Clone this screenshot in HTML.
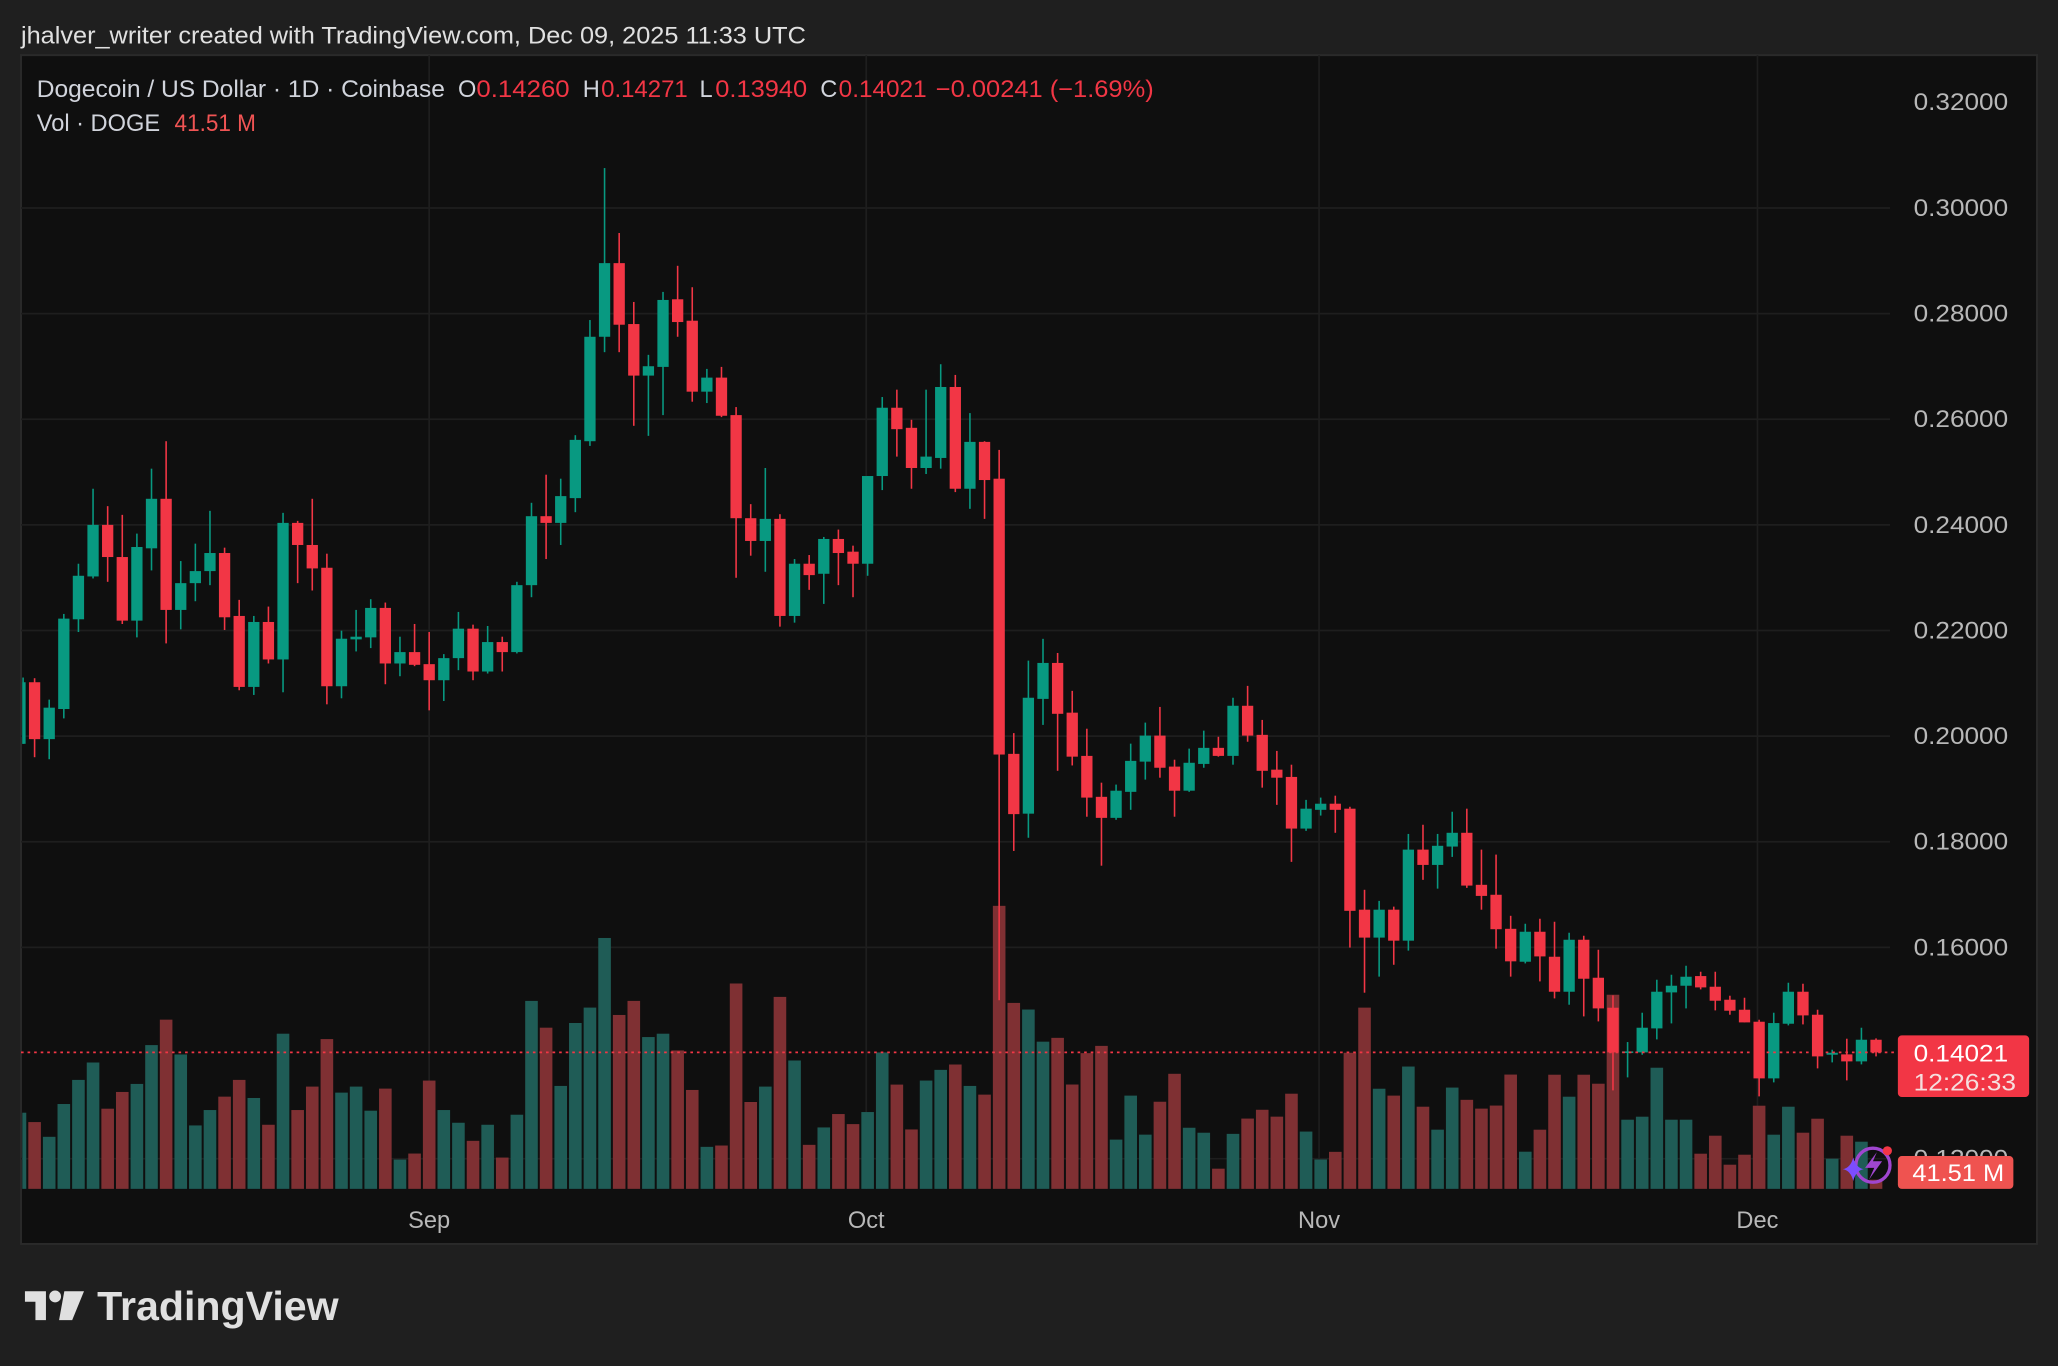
<!DOCTYPE html>
<html><head><meta charset="utf-8"><style>
html,body{margin:0;padding:0;background:#1f1f1f;}
svg{display:block;}
text{font-family:"Liberation Sans",sans-serif;}
</style></head><body>
<svg id="s" xmlns="http://www.w3.org/2000/svg" width="2058" height="1366" viewBox="0 0 1568 1041" preserveAspectRatio="none">
<rect x="0" y="0" width="1568" height="1041" fill="#1f1f1f"/>
<rect x="16" y="42" width="1536" height="906" fill="#0f0f0f" stroke="#2a2a2a" stroke-width="1.5"/>
<g id="grid" stroke="#1e1e1e" stroke-width="1.3"></g>
<g id="vol"></g>
<g id="cdl"></g>
<line x1="16" y1="802" x2="1446" y2="802" stroke="#f23645" stroke-width="1.3" stroke-dasharray="2,3"/>
<g id="lbl" fill="#b8b8b8" font-size="18"></g>
<text x="16" y="33" fill="#e0e0e0" font-size="18" textLength="598" lengthAdjust="spacingAndGlyphs">jhalver_writer created with TradingView.com, Dec 09, 2025 11:33 UTC</text>
<g font-size="18">
<text x="28" y="74" fill="#d1d4dc" textLength="311" lengthAdjust="spacingAndGlyphs">Dogecoin / US Dollar · 1D · Coinbase</text>
<text x="349" y="74" fill="#d1d4dc">O</text>
<text x="363" y="74" fill="#f23645" textLength="71" lengthAdjust="spacingAndGlyphs">0.14260</text>
<text x="444" y="74" fill="#d1d4dc">H</text>
<text x="458" y="74" fill="#f23645" textLength="66" lengthAdjust="spacingAndGlyphs">0.14271</text>
<text x="533" y="74" fill="#d1d4dc">L</text>
<text x="545" y="74" fill="#f23645" textLength="70" lengthAdjust="spacingAndGlyphs">0.13940</text>
<text x="625" y="74" fill="#d1d4dc">C</text>
<text x="639" y="74" fill="#f23645" textLength="67" lengthAdjust="spacingAndGlyphs">0.14021</text>
<text x="713" y="74" fill="#f23645" textLength="166" lengthAdjust="spacingAndGlyphs">−0.00241 (−1.69%)</text>
<text x="28" y="100" fill="#d1d4dc" textLength="94" lengthAdjust="spacingAndGlyphs">Vol · DOGE</text>
<text x="133" y="100" fill="#f05454" textLength="62" lengthAdjust="spacingAndGlyphs">41.51 M</text>
</g>
<rect x="1446" y="789" width="100" height="47" rx="3" fill="#f23645"/>
<text x="1458" y="809" font-size="18" fill="#ffffff" textLength="72" lengthAdjust="spacingAndGlyphs">0.14021</text>
<text x="1458" y="831" font-size="18" fill="#f5dede" textLength="78" lengthAdjust="spacingAndGlyphs">12:26:33</text>
<rect x="1446" y="881" width="88" height="25" rx="3" fill="#ef5350"/>
<text x="1457" y="900" font-size="18" fill="#ffffff" textLength="70" lengthAdjust="spacingAndGlyphs">41.51 M</text>
<circle cx="1427" cy="888" r="13" fill="none" stroke="#a046d0" stroke-width="2.5"/>
<path d="M1430 878 L1421 890 L1428 890 L1424 899 L1434 885 L1427 885 Z" fill="#a046d0"/>
<circle cx="1438" cy="877" r="3.5" fill="#f23645"/>
<path d="M1412 882 Q1414 890 1420 891 Q1414 892 1412 900 Q1410 892 1404 891 Q1410 890 1412 882Z" fill="#7c4dff"/>
<g fill="#b8b8b8" font-size="18" text-anchor="middle">
<text x="327" y="936">Sep</text><text x="660" y="936">Oct</text><text x="1005" y="936">Nov</text><text x="1339" y="936">Dec</text>
</g>
<g fill="#e0e0e0">
<path d="M19 984 H35 V1006 H27 V992 H19 Z"/>
<circle cx="42" cy="988" r="4.5"/>
<path d="M49 984 H64 L55 1006 H45 Z"/>
<text x="74" y="1006" font-size="31" font-weight="bold" fill="#e0e0e0" textLength="184" lengthAdjust="spacingAndGlyphs">TradingView</text>
</g>
</svg>
<script>
var A=[
['g',795,887,788,887,1438],['r',795,880,789,907,1452],['g',833,880,821,910,1474],['g',700,835,693,849,1425],['g',636,701,618,720,1389],
['g',560,637,506,640,1363],['r',560,608,532,645,1432],['r',608,703,545,708,1407],['g',593,703,573,728,1395],['g',521,595,476,628,1337],
['r',521,687,435,737,1299],['g',647,687,614,716,1351],['g',629,647,588,674,1457],['g',602,629,539,650,1434],['r',602,698,594,717,1414],
['r',696,802,672,807,1389],['g',705,802,696,814,1416],['r',705,761,682,767,1456],['g',557,761,542,810,1320],['r',557,590,554,647,1434],
['r',590,625,521,658,1399],['r',624,801,603,828,1328],['g',730,801,718,819,1408],['g',727,731,687,749,1399],['g',684,728,671,744,1435],
['r',684,767,676,798,1402],['g',750,767,727,786,1508],['r',750,769,708,771,1499],['r',768,792,720,837,1390],['g',759,792,753,823,1434],
['g',715,759,690,777,1453],['r',715,779,709,792,1480],['g',735,779,711,782,1456],['r',735,750,727,779,1505],['g',650,750,645,752,1441],
['g',547,650,527,668,1271],['r',547,557,485,611,1311],['g',517,557,491,590,1398],['g',433,520,426,541,1304],['g',279,435,254,442,1281],
['g',169,279,27,302,1177],['r',169,261,124,302,1292],['r',260,337,227,412,1271],['g',323,337,306,427,1325],['g',224,324,212,396,1320],
['r',223,257,173,279,1345],['r',255,361,205,376,1404],['g',340,361,327,378,1489],['r',340,397,324,399,1487],['r',396,550,384,639,1245],
['r',550,584,529,606,1422],['g',551,584,475,630,1399],['r',551,696,544,712,1265],['g',618,696,611,706,1360],['r',618,635,605,657,1486],
['g',581,633,578,678,1460],['r',581,602,567,650,1440],['r',600,618,591,668,1455],['g',487,618,487,636,1437],['g',385,487,369,508,1348],
['r',385,417,358,458,1396],['r',415,475,403,506,1463],['g',458,475,358,484,1390],['g',354,460,320,476,1374],['r',354,506,336,511,1366],
['g',436,506,393,536,1398],['r',436,493,435,551,1411],['r',491,903,448,1270,1129],['r',902,992,871,1047,1274]];
var B=[
['g',256,559,159,622,1071],['g',165,259,102,327,1155],['r',165,298,139,447,1145],['r',295,410,238,433,1267],['r',408,517,337,567,1185],
['r',515,570,478,695,1166],['g',499,570,483,575,1411],['g',421,502,376,549,1296],['g',355,423,321,470,1398],['r',355,439,280,465,1312],
['r',436,499,418,567,1239],['g',426,499,389,502,1380],['g',387,429,342,439,1393],['r',387,408,358,410,1487],['g',277,408,256,431,1396],
['r',277,355,225,371,1356],['r',353,447,314,491,1333],['r',444,465,395,536,1351],['r',463,598,431,685,1291],['g',546,598,523,604,1390],
['g',533,549,517,564,1463],['r',533,549,512,609,1443],['r',546,813,541,909,1184],['r',810,883,758,1027,1066],['g',810,883,787,985,1278],
['r',810,891,802,954,1296],['g',653,891,612,917,1220],['r',653,693,588,732,1325],['g',643,693,612,755,1385],['g',609,645,554,672,1275],
['r',609,747,546,753,1307],['r',745,774,653,810,1330],['r',771,861,666,912,1322],['r',860,945,826,985,1241]];
var C=[
['g',546,636,522,641,1206],['r',546,620,507,695,1140],['r',621,726,516,746,975],['g',570,726,549,765,1041],['r',570,687,558,800,975],
['r',684,776,600,815,1002],['r',774,908,737,1022,735],['g',905,909,877,983,1110],['g',834,908,789,915,1101],['g',726,836,690,869,954],
['g',708,728,675,821,1110],['g',681,708,648,776,1110],['r',679,713,666,719,1212],['r',711,753,666,782,1158],['r',750,783,738,795,1245],
['r',780,818,744,818,1215],['r',816,986,810,1040,1068],['g',820,986,789,998,1155],['g',726,822,699,827,1071],['r',726,797,702,824,1149],
['r',795,920,780,956,1107],['g',909,915,900,938,1227],['r',914,935,867,992,1158],['g',870,935,834,944,1176],['r',870,908,866,920,1290]];
var ns="http://www.w3.org/2000/svg";
function el(p,t,a){var e=document.createElementNS(ns,t);for(var k in a)e.setAttribute(k,a[k]);p.appendChild(e);return e;}
var grid=document.getElementById('grid'),vol=document.getElementById('vol'),cdl=document.getElementById('cdl'),lbl=document.getElementById('lbl');
var labs=['0.32000','0.30000','0.28000','0.26000','0.24000','0.22000','0.20000','0.18000','0.16000','0.14000','0.12000'];
for(var i=0;i<11;i++){var y=78+i*80.5;if(i>0&&i!=9)el(grid,'line',{x1:16,x2:1440,y1:y,y2:y});
 if(i!=9){var t=el(lbl,'text',{x:1458,y:y+6,textLength:72,lengthAdjust:'spacingAndGlyphs'});t.textContent=labs[i];}}
[327,660,1005,1339].forEach(function(x){el(grid,'line',{x1:x,x2:x,y1:42,y2:906});});
var all=[];
A.forEach(function(d){all.push([d[0],d[1]/1.96+114.3,d[2]/1.96+114.3,d[3]/1.96+114.3,d[4]/1.96+114.3,d[5]/1.96+114.3]);});
B.forEach(function(d){all.push([d[0],457.1+d[1]/3.43,457.1+d[2]/3.43,457.1+d[3]/3.43,457.1+d[4]/3.43,457.1+d[5]/3.43]);});
C.forEach(function(d){all.push([d[0],571.4+d[1]/3.9375,571.4+d[2]/3.9375,571.4+d[3]/3.9375,571.4+d[4]/3.9375,571.4+d[5]/3.9375]);});
all.forEach(function(d,k){
 var i=k+1,x=327+(i-29)*11.135,g=d[0]=='g';
 var vx=Math.max(17,x-4.8),vw=x+4.8-vx;
 el(vol,'rect',{x:vx,y:d[5],width:vw,height:906-d[5],fill:g?'#1f5c56':'#7f3033'});
 var col=g?'#089981':'#f23645';
 el(cdl,'rect',{x:Math.max(17,x-0.6),y:d[3],width:1.2,height:d[4]-d[3],fill:col});
 var bx=Math.max(17,x-4.3);
 el(cdl,'rect',{x:bx,y:d[1],width:x+4.3-bx,height:Math.max(1.2,d[2]-d[1]),fill:col});
});
</script>
</body></html>
